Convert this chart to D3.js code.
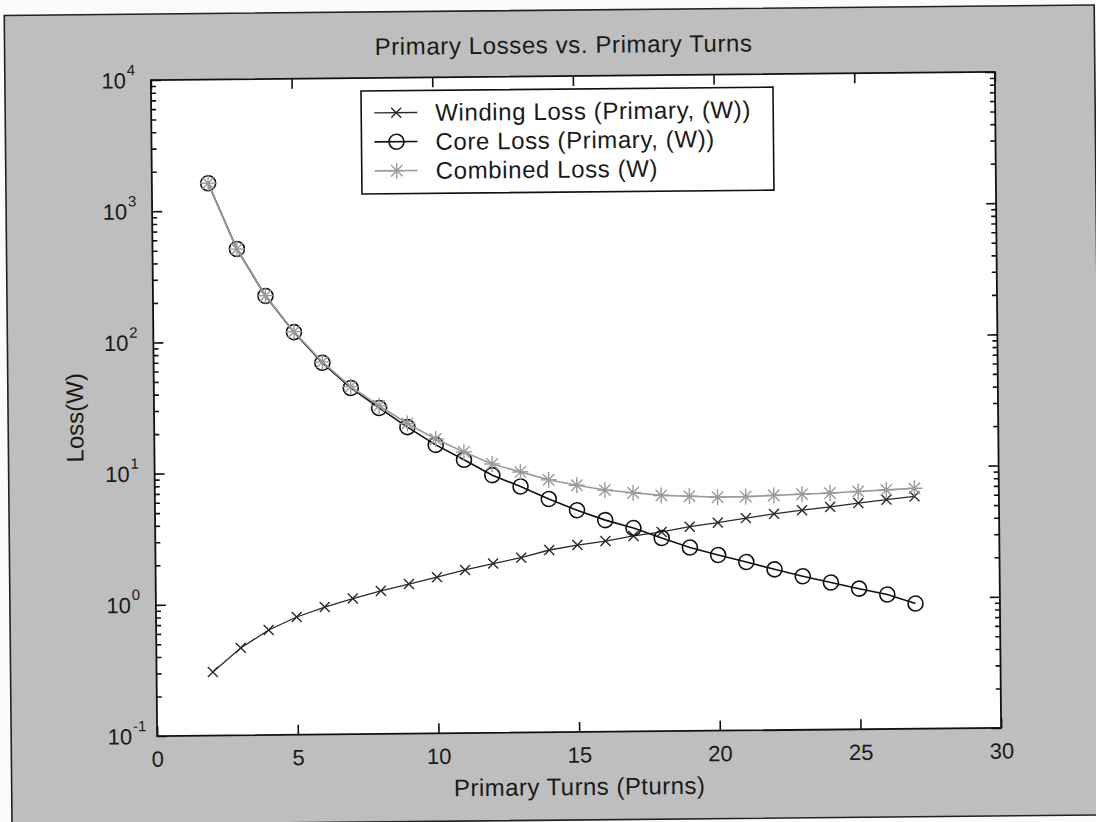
<!DOCTYPE html>
<html>
<head>
<meta charset="utf-8">
<script src="https://cdn.jsdelivr.net/npm/d3@7"></script>
<style>
  body { margin: 0; background: #fbfbfb; }
  text { font-family: "Liberation Sans", Arial, sans-serif; fill: #1a1a1a; }
</style>
</head>
<body>
<div id="chart"></div>
<script>
// data
const turns = [2, 3, 4, 5, 6, 7, 8, 9, 10, 11, 12, 13, 14, 15, 16, 17, 18, 19, 20, 21, 22, 23, 24, 25, 26, 27];
const windingLoss = [0.305, 0.463, 0.631, 0.789, 0.935, 1.08, 1.23, 1.38, 1.55, 1.75, 1.95, 2.15, 2.45, 2.66,
  2.84, 3.09, 3.3, 3.6, 3.85, 4.15, 4.45, 4.72, 4.98, 5.3, 5.6, 5.9];
const coreLoss = [1620, 508, 222, 117, 68, 43.5, 30.5, 21.7, 15.8, 12.1, 9.2, 7.5, 6.0, 4.9,
  4.1, 3.55, 2.97, 2.5, 2.18, 1.92, 1.68, 1.48, 1.32, 1.18, 1.06, 0.9];
const combinedLoss = [1620, 508, 223, 118, 69, 44.6, 31.7, 23.1, 17.5, 13.9, 11.2, 9.7, 8.4, 7.6,
  6.95, 6.6, 6.27, 6.15, 6.02, 6.05, 6.15, 6.25, 6.35, 6.5, 6.65, 6.8];
const seriesNames = ["Winding Loss (Primary, (W))", "Core Loss (Primary, (W))", "Combined Loss (W)"];
const xTicks = [0, 5, 10, 15, 20, 25, 30];
const yDecades = [-1, 0, 1, 2, 3, 4];

const width = 1096;
const height = 822;
const marginLeft = 154;
const marginRight = 98;
const marginTop = 76;
const marginBottom = 90;

const x = d3.scaleLinear().domain([0, 30]).range([marginLeft, width - marginRight]);
const y = d3.scaleLog().domain([0.1, 10000]).range([height - marginBottom, marginTop]);

const svg = d3.select("#chart").append("svg")
  .attr("width", width)
  .attr("height", height)
  .style("display", "block");

// scanner grain
const defs = svg.append("defs");
const grain = defs.append("filter").attr("id", "grain");
grain.append("feTurbulence").attr("type", "fractalNoise").attr("baseFrequency", 0.9).attr("numOctaves", 2).attr("seed", 3);
grain.append("feColorMatrix").attr("type", "matrix")
  .attr("values", "0 0 0 0 0.45  0 0 0 0 0.45  0 0 0 0 0.45  0 0 0 0.55 0");
grain.append("feComposite").attr("in2", "SourceGraphic").attr("operator", "in");

// the page was scanned slightly askew
const g = svg.append("g").attr("transform", "rotate(-0.55, 576, 404)");

// figure
g.append("rect").attr("x", 8).attr("y", 10).attr("width", 1090).attr("height", 810)
  .attr("fill", "#c0c0c0");
g.append("rect").attr("x", 8).attr("y", 10).attr("width", 1090).attr("height", 810)
  .attr("fill", "#c0c0c0").attr("filter", "url(#grain)").attr("opacity", 0.5);
g.append("rect").attr("x", 8).attr("y", 10).attr("width", 1090).attr("height", 810)
  .attr("fill", "none").attr("stroke", "#222").attr("stroke-width", 1.6);

// axes box
g.append("rect")
  .attr("x", x(0)).attr("y", y(10000))
  .attr("width", x(30) - x(0)).attr("height", y(0.1) - y(10000))
  .attr("fill", "#fff");

const minors = [];
for (let e = -1; e < 4; e++) {
  for (let k = 2; k < 10; k++) minors.push(k * Math.pow(10, e));
}
const majors = yDecades.map((e) => Math.pow(10, e));

function styleAxis(sel) {
  sel.select(".domain").remove();
  sel.selectAll(".tick line").attr("stroke", "#111").attr("stroke-width", 1.6);
}

// x axes (bottom with labels, top plain)
g.append("g")
  .attr("transform", `translate(0,${y(0.1)})`)
  .call(d3.axisBottom(x).tickValues(xTicks).tickSize(-10).tickPadding(15).tickFormat(d3.format("d")))
  .call(styleAxis)
  .call((s) => s.selectAll(".tick text").attr("font-size", 22).attr("fill", "#1a1a1a")
    .attr("font-family", "'Liberation Sans', Arial, sans-serif"));
g.append("g")
  .attr("transform", `translate(0,${y(10000)})`)
  .call(d3.axisTop(x).tickValues(xTicks).tickSize(-10).tickFormat(""))
  .call(styleAxis);

// y axes: decades long, minors short, both sides
g.append("g").attr("transform", `translate(${x(0)},0)`)
  .call(d3.axisLeft(y).tickValues(majors).tickSize(-10).tickFormat("")).call(styleAxis);
g.append("g").attr("transform", `translate(${x(0)},0)`)
  .call(d3.axisLeft(y).tickValues(minors).tickSize(-5).tickFormat("")).call(styleAxis);
g.append("g").attr("transform", `translate(${x(30)},0)`)
  .call(d3.axisRight(y).tickValues(majors).tickSize(-10).tickFormat("")).call(styleAxis);
g.append("g").attr("transform", `translate(${x(30)},0)`)
  .call(d3.axisRight(y).tickValues(minors).tickSize(-5).tickFormat("")).call(styleAxis);

// y tick labels 10^n
const yLab = g.append("g");
yDecades.forEach((e) => {
  yLab.append("text")
    .attr("x", x(0) - 25)
    .attr("y", y(Math.pow(10, e)) + 8)
    .attr("text-anchor", "end")
    .attr("font-size", 22)
    .text("10");
  yLab.append("text")
    .attr("x", x(0) - 24)
    .attr("y", y(Math.pow(10, e)) - 5)
    .attr("font-size", 15)
    .text(String(e));
});

// frame
g.append("rect")
  .attr("x", x(0)).attr("y", y(10000))
  .attr("width", x(30) - x(0)).attr("height", y(0.1) - y(10000))
  .attr("fill", "none").attr("stroke", "#111").attr("stroke-width", 1.8);

// series
const series = [
  { name: seriesNames[0], values: windingLoss, color: "#2a2a2a", width: 1.3, marker: "x" },
  { name: seriesNames[1], values: coreLoss, color: "#111", width: 1.6, marker: "o" },
  { name: seriesNames[2], values: combinedLoss, color: "#9a9a9a", width: 1.6, marker: "*" },
];

const markerPath = {
  x: "M-5,-5L5,5M-5,5L5,-5",
  "*": "M-8,0H8M0,-8V8M-5.7,-5.7L5.7,5.7M-5.7,5.7L5.7,-5.7",
};

function drawMarker(sel, s) {
  if (s.marker === "o") {
    sel.append("circle").attr("r", 7.5).attr("fill", "none")
      .attr("stroke", s.color).attr("stroke-width", 1.6);
  } else {
    sel.append("path").attr("d", markerPath[s.marker]).attr("fill", "none")
      .attr("stroke", s.color).attr("stroke-width", 1.4);
  }
}

const line = d3.line().x((d) => x(d[0])).y((d) => y(d[1]));

series.forEach((s) => {
  const pts = turns.map((t, i) => [t, s.values[i]]);
  g.append("path").datum(pts)
    .attr("d", line)
    .attr("fill", "none")
    .attr("stroke", s.color)
    .attr("stroke-width", s.width);
  g.append("g").selectAll("g").data(pts).join("g")
    .attr("transform", (d) => `translate(${x(d[0])},${y(d[1])})`)
    .each(function () { drawMarker(d3.select(this), s); });
});

// legend
const legend = g.append("g");
legend.append("rect").attr("x", 364).attr("y", 89).attr("width", 412).attr("height", 103)
  .attr("fill", "#fff").attr("stroke", "#111").attr("stroke-width", 1.6);
series.forEach((s, i) => {
  const cy = 111 + i * 29;
  legend.append("line").attr("x1", 377).attr("x2", 420).attr("y1", cy).attr("y2", cy)
    .attr("stroke", s.color).attr("stroke-width", s.width);
  drawMarker(legend.append("g").attr("transform", `translate(399,${cy})`), s);
  legend.append("text").attr("x", 438).attr("y", cy + 8.5).attr("font-size", 24)
    .attr("letter-spacing", 0.6).text(s.name);
});

// titles
g.append("text").attr("x", 567).attr("y", 53).attr("text-anchor", "middle")
  .attr("font-size", 24).attr("letter-spacing", 0.6).text("Primary Losses vs. Primary Turns");
g.append("text").attr("x", 576).attr("y", 795).attr("text-anchor", "middle")
  .attr("font-size", 24).attr("letter-spacing", 0.45).text("Primary Turns (Pturns)");
g.append("text")
  .attr("transform", "translate(83,413) rotate(-90)")
  .attr("text-anchor", "middle")
  .attr("font-size", 24).text("Loss(W)");
</script>
</body>
</html>
